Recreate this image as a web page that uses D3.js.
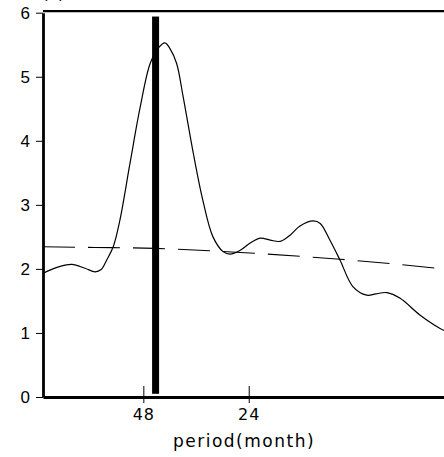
<!DOCTYPE html>
<html>
<head>
<meta charset="utf-8">
<script src="https://cdn.jsdelivr.net/npm/d3@7"></script>
<style>
  html, body { margin: 0; padding: 0; background: #fff; }
  svg { display: block; overflow: hidden; }
</style>
</head>
<body>
<svg id="spec"></svg>
<script>
// spectrum, frequency in cycles/month
const freqs = [0.0010, 0.0036, 0.0067, 0.0093, 0.0113, 0.0125, 0.0136, 0.0149, 0.0162, 0.0182,
  0.0202, 0.0222, 0.0239, 0.0251, 0.0261, 0.0274, 0.0287, 0.0307, 0.0326, 0.0346,
  0.0366, 0.0380, 0.0400, 0.0419, 0.0439, 0.0459, 0.0479, 0.0499, 0.0518, 0.0544,
  0.0558, 0.0577, 0.0597, 0.0623, 0.0650, 0.0668, 0.0690, 0.0716, 0.0755, 0.0795, 0.0815];
const power = [1.93, 2.02, 2.07, 2.01, 1.955, 1.99, 2.14, 2.35, 2.76, 3.65,
  4.52, 5.21, 5.46, 5.53, 5.44, 5.21, 4.69, 3.81, 3.07, 2.50,
  2.27, 2.23, 2.29, 2.40, 2.48, 2.45, 2.43, 2.53, 2.67, 2.75,
  2.71, 2.45, 2.14, 1.72, 1.59, 1.61, 1.63, 1.54, 1.28, 1.07, 1.00];

// red noise reference (dashed)
const refFreqs = [0.0010, 0.0113, 0.0232, 0.0400, 0.0597, 0.0789, 0.0833];
const refPower = [2.345, 2.335, 2.32, 2.257, 2.15, 2.01, 1.97];

// marked period (thick bar)
const markPeriod = 43;
const markRange = [0.05, 5.94];

const yTicks = [0, 1, 2, 3, 4, 5, 6];
const xTickPeriods = [48, 24];
const title = "(c)";
const xTitle = "period(month)";

const W = 444, H = 457;
const svg = d3.select("#spec").attr("width", W).attr("height", H);

const x = d3.scaleLinear().domain([0.001, 1 / 12]).range([43, 459.5]);
const y = d3.scaleLinear().domain([0, 6]).range([397, 12.7]);

// title, mostly above the page
svg.append("text")
  .attr("x", 42).attr("y", -1.5)
  .style("font-family", "DejaVu Sans")
  .style("font-size", "17px")
  .text(title);

// top frame line
svg.append("line")
  .attr("x1", x(0.001)).attr("x2", x(1 / 12))
  .attr("y1", y(6) - 1.5).attr("y2", y(6) - 1.5)
  .attr("stroke", "#000").attr("stroke-width", 2.2);

// reference curve
const refData = refFreqs.map((f, i) => ({ f: f, p: refPower[i] }));
svg.append("path")
  .datum(refData)
  .attr("fill", "none")
  .attr("stroke", "#000")
  .attr("stroke-width", 1.1)
  .attr("stroke-dasharray", "32,13")
  .attr("d", d3.line().x(d => x(d.f)).y(d => y(d.p)).curve(d3.curveMonotoneX));

// spectrum curve
const specData = freqs.map((f, i) => ({ f: f, p: power[i] }));
svg.append("path")
  .datum(specData)
  .attr("fill", "none")
  .attr("stroke", "#000")
  .attr("stroke-width", 1.2)
  .attr("d", d3.line().x(d => x(d.f)).y(d => y(d.p)).curve(d3.curveCatmullRom));

// thick bar at the marked period
svg.append("rect")
  .attr("x", x(1 / markPeriod) - 3.5)
  .attr("width", 7)
  .attr("y", y(markRange[1]))
  .attr("height", y(markRange[0]) - y(markRange[1]))
  .attr("fill", "#000");

// y axis
const yAxis = d3.axisLeft(y).tickValues(yTicks).tickFormat(d3.format("d"))
  .tickSizeInner(7).tickSizeOuter(0).tickPadding(6);
const gy = svg.append("g").attr("transform", `translate(${x(0.001)},0)`).call(yAxis);
gy.select(".domain").attr("stroke-width", 2.8);
gy.selectAll(".tick line").attr("stroke-width", 1);
gy.selectAll(".tick text")
  .style("font-family", "Liberation Sans, Arial, sans-serif")
  .style("font-size", "17px")
  .attr("fill", "#000");

// x axis (ticks labelled by period)
const xAxis = d3.axisBottom(x).tickValues(xTickPeriods.map(p => 1 / p))
  .tickFormat(f => String(Math.round(1 / f)))
  .tickSizeOuter(0);
const gx = svg.append("g").attr("transform", `translate(0,${y(0)})`).call(xAxis);
gx.select(".domain").attr("stroke-width", 2.8);
gx.selectAll(".tick line").attr("y1", -11).attr("y2", 6).attr("stroke-width", 1);
gx.selectAll(".tick text")
  .attr("y", 23).attr("dy", 0)
  .style("font-family", "DejaVu Sans")
  .style("font-size", "16px")
  .style("letter-spacing", "1px")
  .attr("fill", "#000");

// x axis title
svg.append("text")
  .attr("x", 244).attr("y", 447)
  .attr("text-anchor", "middle")
  .style("font-family", "DejaVu Sans")
  .style("font-size", "17px")
  .style("letter-spacing", "1.5px")
  .text(xTitle);
</script>
</body>
</html>
